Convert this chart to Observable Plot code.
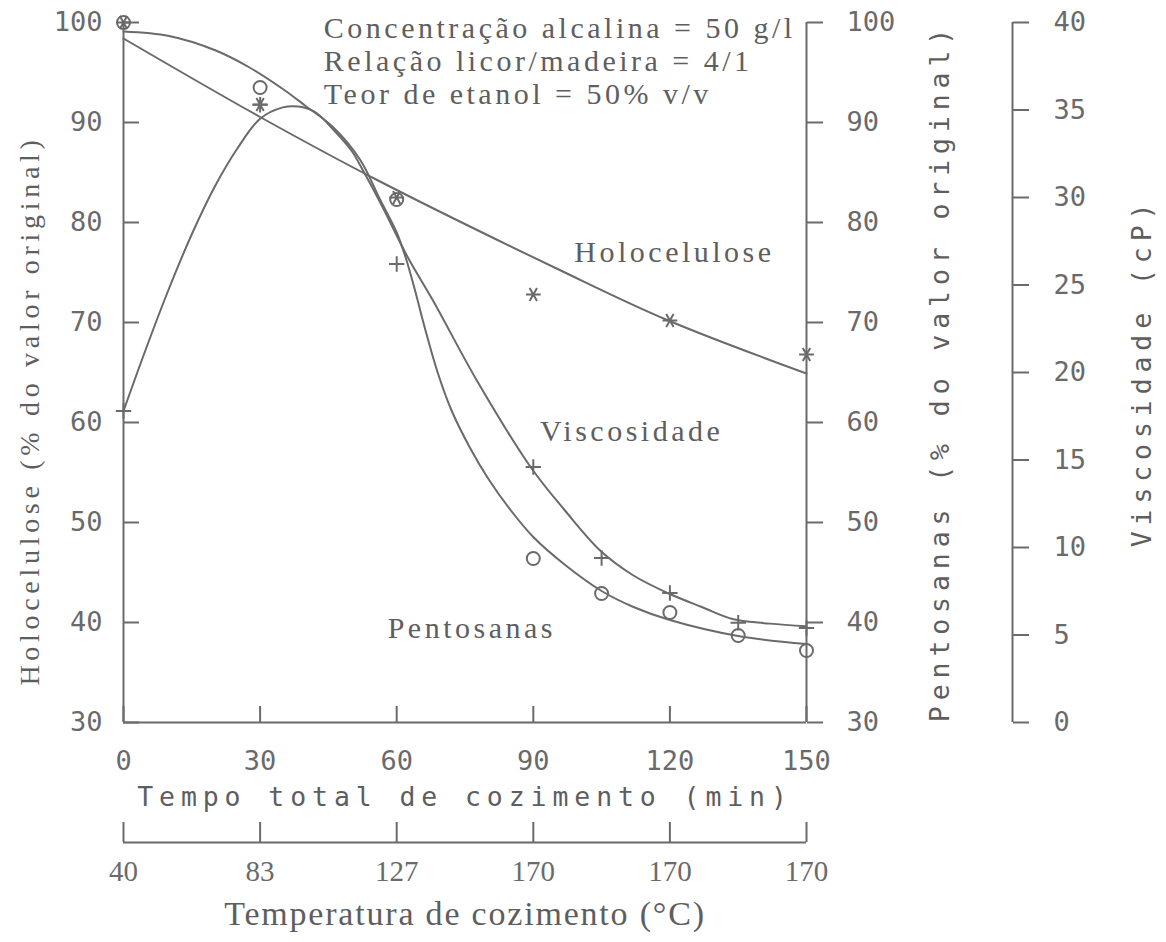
<!DOCTYPE html>
<html>
<head>
<meta charset="utf-8">
<script src="https://cdn.jsdelivr.net/npm/d3@7"></script>
<script src="https://cdn.jsdelivr.net/npm/@observablehq/plot@0.6"></script>
<style>
  body { margin: 0; background: #fff; }
  #chart svg { display: block; background: #fff; }
  /* typewriter-style annotations */
  g[font-family="Liberation Serif"][font-size="30"] text { letter-spacing: 3.5px; }
  g[font-family="Liberation Serif"][font-size="28"] text { letter-spacing: 4.7px; }
  g[font-family="Liberation Serif"][font-size="34"] text { letter-spacing: 1.8px; }
  /* plotter-style axis titles */
  g[font-family="DejaVu Sans Mono"][font-size="26.5"] text { letter-spacing: 5.9px; }
</style>
</head>
<body>
<div id="chart"></div>
<script>
// Tempo total de cozimento (min) for each measured sample
const tempoHolo = [0, 30, 60, 90, 120, 150];
const tempoAmostras = [0, 30, 60, 90, 105, 120, 135, 150];

// Measured values (% of original value; viscosity in cP)
const holocelulose = [100, 91.8, 82.5, 72.8, 70.2, 66.8];
const pentosanas = [100, 93.5, 82.3, 46.4, 42.9, 41.0, 38.7, 37.2];
const viscosidade = [17.8, 35.3, 26.2, 14.6, 9.4, 7.4, 5.7, 5.4];

// Fitted curves
const holoCurvaT = [0, 30.2, 55.7, 95.8, 119.4, 150];
const holoCurvaV = [98.4, 90.5, 84.25, 75.25, 70.25, 64.9];

const pentCurvaT = [0, 10, 20, 27.5, 35, 40, 46, 52, 56.4, 60, 62, 64, 66, 69, 72, 76, 80, 85, 90, 97, 105, 112, 120, 135, 150];
const pentCurvaV = [99.1, 98.65, 97.25, 95.55, 93.35, 91.65, 89.55, 86.25, 82.25, 79.0, 76.45, 73.25, 69.75, 65.0, 61.25, 57.55, 54.45, 51.25, 48.55, 45.75, 43.15, 41.55, 40.25, 38.65, 37.85];

const viscCurvaT = [0, 5, 10, 15, 20, 25, 30, 35, 38.4, 42, 46, 50, 52.7, 57, 62.4, 68, 77.7, 89.4, 97, 104.8, 112, 119.5, 127, 134, 142, 150];
const viscCurvaV = [17.8, 21.4, 24.8, 27.9, 30.6, 32.8, 34.5, 35.15, 35.2, 34.9, 33.9, 32.7, 31.5, 29.4, 26.6, 24.1, 19.5, 14.6, 12.1, 9.8, 8.4, 7.4, 6.6, 5.9, 5.65, 5.5];

// Axis ticks and labels
const tempoTicks = [0, 30, 60, 90, 120, 150];
const temperaturas = ["40", "83", "127", "170", "170", "170"];
const pctTicks = [30, 40, 50, 60, 70, 80, 90, 100];
const viscTicks = [0, 5, 10, 15, 20, 25, 30, 35, 40];

const notas = [
  "Concentração alcalina = 50 g/l",
  "Relação licor/madeira = 4/1",
  "Teor de etanol = 50% v/v"
];

// Viscosity shares the vertical extent of the % axes: 0–40 cP ↔ 30–100 %
const pctDomain = [30, 100];
const viscDomain = [0, 40];
const viscParaPct = d3.scaleLinear(viscDomain, pctDomain);

const pontos = (ts, vs) => ts.map((t, i) => ({t, v: vs[i]}));
const holoPts = pontos(tempoHolo, holocelulose);
const pentPts = pontos(tempoAmostras, pentosanas);
const viscPts = pontos(tempoAmostras, viscosidade.map(viscParaPct));
const holoCurva = pontos(holoCurvaT, holoCurvaV);
const pentCurva = pontos(pentCurvaT, pentCurvaV);
const viscCurva = pontos(viscCurvaT, viscCurvaV.map(viscParaPct));

const cinza = "#6a6a6a";
const texto = "#5e5e5e";
const mono = "DejaVu Sans Mono";
const serif = "Liberation Serif";
const traco = {stroke: cinza, strokeWidth: 2};

const chart = Plot.plot({
  width: 1166,
  height: 942,
  marginLeft: 123,
  marginRight: 360,
  marginTop: 22,
  marginBottom: 220,
  x: {domain: [0, 150]},
  y: {domain: pctDomain},
  style: {background: "#fff", color: texto},
  marks: [
    // axis lines
    Plot.ruleX([0], {y1: 30, y2: 100, ...traco}),
    Plot.ruleX([150], {y1: 30, y2: 100, ...traco}),
    Plot.ruleX([150], {y1: 30, y2: 100, dx: 206, ...traco}),
    Plot.ruleY([30], {x1: 0, x2: 150, ...traco}),
    Plot.ruleY([30], {x1: 0, x2: 150, dy: 120, ...traco}),

    // left: holocelulose %
    Plot.axisY(pctTicks, {anchor: "left", tickSize: -16, tickPadding: 37, color: cinza, strokeWidth: 2,
      fontFamily: mono, fontSize: 27, label: null}),
    // right: pentosanas %
    Plot.axisY(pctTicks, {anchor: "right", tickSize: 16, tickPadding: 24, color: cinza, strokeWidth: 2,
      fontFamily: mono, fontSize: 27, label: null}),
    // far right: viscosidade cP
    Plot.axisY(viscTicks.map(viscParaPct), {anchor: "right", dx: 206, tickSize: 16, tickPadding: 25,
      color: cinza, strokeWidth: 2, fontFamily: mono, fontSize: 27, label: null,
      tickFormat: (v) => String(Math.round(viscParaPct.invert(v)))}),
    // bottom: tempo (min)
    Plot.axisX(tempoTicks, {anchor: "bottom", tickSize: -16, tickPadding: 44, color: cinza, strokeWidth: 2,
      fontFamily: mono, fontSize: 27, label: null}),
    // lower scale: temperatura (°C)
    Plot.axisX(tempoTicks, {anchor: "bottom", dy: 120, tickSize: -20, tickPadding: 38, color: cinza, strokeWidth: 2,
      fontFamily: serif, fontSize: 29, label: null,
      tickFormat: (t) => temperaturas[tempoTicks.indexOf(t)]}),

    // fitted curves
    Plot.line(holoCurva, {x: "t", y: "v", curve: "catmull-rom", ...traco}),
    Plot.line(pentCurva, {x: "t", y: "v", curve: "catmull-rom", ...traco}),
    Plot.line(viscCurva, {x: "t", y: "v", curve: "catmull-rom", ...traco}),

    // measured points
    Plot.dot(holoPts, {x: "t", y: "v", symbol: "asterisk", r: 7, rotate: 90, stroke: cinza, strokeWidth: 2}),
    Plot.dot(pentPts, {x: "t", y: "v", symbol: "circle", r: 6.5, stroke: cinza, strokeWidth: 2, fill: "none"}),
    Plot.dot(viscPts, {x: "t", y: "v", symbol: "plus", r: 5, stroke: cinza, strokeWidth: 2}),

    // series names
    Plot.text(["Holocelulose"], {x: 121, y: 77, fontFamily: serif, fontSize: 30, fill: texto}),
    Plot.text(["Viscosidade"], {x: 111.6, y: 59.1, fontFamily: serif, fontSize: 30, fill: texto}),
    Plot.text(["Pentosanas"], {x: 76.5, y: 39.4, fontFamily: serif, fontSize: 30, fill: texto}),

    // cooking conditions
    Plot.text([notas.join("\n")], {x: 44, y: 100, dy: -8, textAnchor: "start", lineAnchor: "top", lineHeight: 1.1,
      fontFamily: serif, fontSize: 30, fill: texto}),

    // axis titles
    Plot.text(["Holocelulose (% do valor original)"], {frameAnchor: "left", dx: -93, dy: 38, rotate: -90,
      textAnchor: "middle", lineAnchor: "middle", fontFamily: serif, fontSize: 28, fill: texto}),
    Plot.text(["Pentosanas (% do valor original)"], {frameAnchor: "right", dx: 134, rotate: -90,
      textAnchor: "middle", lineAnchor: "middle", fontFamily: mono, fontSize: 26.5, fill: texto}),
    Plot.text(["Viscosidade (cP)"], {frameAnchor: "right", dx: 336, rotate: -90,
      textAnchor: "middle", lineAnchor: "middle", fontFamily: mono, fontSize: 26.5, fill: texto}),
    Plot.text(["Tempo total de cozimento (min)"], {frameAnchor: "bottom", dy: 75,
      textAnchor: "middle", lineAnchor: "middle", fontFamily: mono, fontSize: 26.5, fill: texto}),
    Plot.text(["Temperatura de cozimento (°C)"], {frameAnchor: "bottom", dy: 192,
      textAnchor: "middle", lineAnchor: "middle", fontFamily: serif, fontSize: 34, fill: texto})
  ]
});

document.getElementById("chart").append(chart);
</script>
</body>
</html>
